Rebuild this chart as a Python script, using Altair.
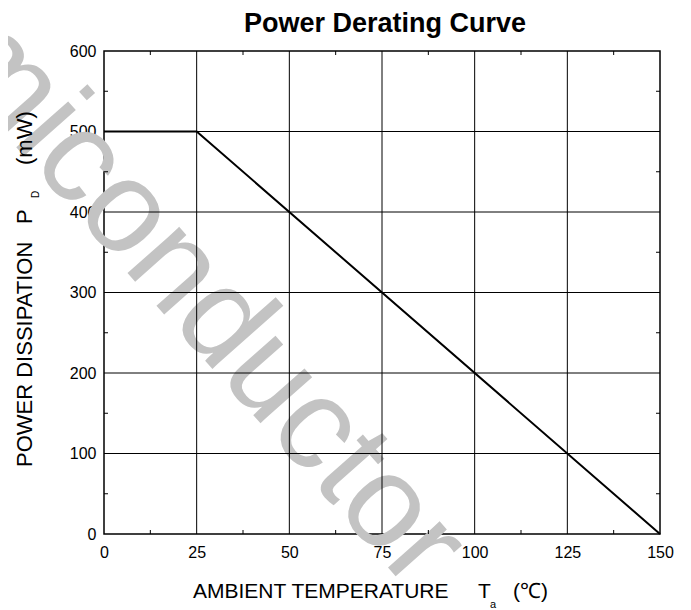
import altair as alt
import pandas as pd

# ---- data ----
temps = [0, 25, 150]          # ambient temperature (°C)
power = [500, 500, 0]         # power dissipation (mW)
x_ticks = [0, 25, 50, 75, 100, 125, 150]
y_ticks = [0, 100, 200, 300, 400, 500, 600]
x_grid = [25, 50, 75, 100, 125]
y_grid = [100, 200, 300, 400, 500]
x_minor = [12.5, 37.5, 62.5, 87.5, 112.5, 137.5]
y_minor = [50, 150, 250, 350, 450, 550]
title_text = ["Power Derating Curve"]
xtitle_main = ["AMBIENT TEMPERATURE"]
xtitle_sym = ["T"]
xtitle_sub = ["a"]
xtitle_unit = ["(\u2103)"]
ytitle_main = ["POWER DISSIPATION"]
ytitle_sym = ["P"]
ytitle_sub = ["D"]
ytitle_unit = ["(mW)"]
watermark = ["Semiconductor"]

W, H = 556, 483
FONT = "Liberation Sans"

xs = alt.Scale(domain=[0, 150], nice=False, zero=False)
ys = alt.Scale(domain=[0, 600], nice=False, zero=False)

axis_common = dict(grid=False, ticks=False, domain=False, title=None,
                   labelFont=FONT, labelFontSize=16, labelColor="black",
                   labelFlush=False, labelOverlap=False)
x_axis = alt.Axis(values=x_ticks, labelPadding=10, **axis_common)
y_axis = alt.Axis(values=y_ticks, labelPadding=8, **axis_common)


def X(field):
    return alt.X(field, type="quantitative", scale=xs, axis=x_axis)


def Y(field):
    return alt.Y(field, type="quantitative", scale=ys, axis=y_axis)


def txt(values, x, y, size, angle=0, weight="normal", color="black", align="left"):
    kw = dict(font=FONT, fontSize=size, fontWeight=weight, color=color,
              align=align, baseline="alphabetic")
    if angle:
        kw["angle"] = angle
    return alt.Chart(pd.DataFrame({"t": values})).mark_text(**kw).encode(
        text="t:N", x=alt.value(x), y=alt.value(y)
    )


wm = txt(watermark, -272, -112, 131, angle=48.5, color="#c3c3c3")

xgrid = alt.Chart(pd.DataFrame({"x": x_grid})).mark_rule(
    color="black", strokeWidth=1).encode(x=X("x"))
ygrid = alt.Chart(pd.DataFrame({"y": y_grid})).mark_rule(
    color="black", strokeWidth=1).encode(y=Y("y"))

xm = pd.DataFrame({"x": x_minor})
ym = pd.DataFrame({"y": y_minor})
minor_b = alt.Chart(xm).mark_rule(color="black").encode(
    x=X("x"), y=alt.value(H), y2=alt.value(H - 4))
minor_t = alt.Chart(xm).mark_rule(color="black").encode(
    x=X("x"), y=alt.value(0), y2=alt.value(4))
minor_l = alt.Chart(ym).mark_rule(color="black").encode(
    y=Y("y"), x=alt.value(0), x2=alt.value(4))
minor_r = alt.Chart(ym).mark_rule(color="black").encode(
    y=Y("y"), x=alt.value(W), x2=alt.value(W - 4))

line = alt.Chart(pd.DataFrame({"temp": temps, "power": power})).mark_line(
    color="black", strokeWidth=2).encode(x=X("temp"), y=Y("power"))

title = txt(title_text, 281, -19, 27, weight="bold", align="center")
xt1 = txt(xtitle_main, 89, 547, 21)
xt2 = txt(xtitle_sym, 374, 547, 21)
xt3 = txt(xtitle_sub, 386, 557, 11)
xt4 = txt(xtitle_unit, 409, 547, 21)
yt1 = txt(ytitle_main, -72, 416, 22, angle=270)
yt2 = txt(ytitle_sym, -72, 173, 22, angle=270)
yt3 = txt(ytitle_sub, -65, 147, 10, angle=270)
yt4 = txt(ytitle_unit, -72, 114, 22, angle=270)

chart = alt.layer(
    wm, xgrid, ygrid, minor_b, minor_t, minor_l, minor_r, line,
    title, xt1, xt2, xt3, xt4, yt1, yt2, yt3, yt4
).properties(
    width=W, height=H,
    autosize=alt.AutoSizeParams(type="none"),
    padding={"left": 96, "top": 43, "right": 23, "bottom": 76},
).configure_view(stroke="black", strokeWidth=1.5)

chart.save("out.html", embed_options={"renderer": "svg", "actions": False})
